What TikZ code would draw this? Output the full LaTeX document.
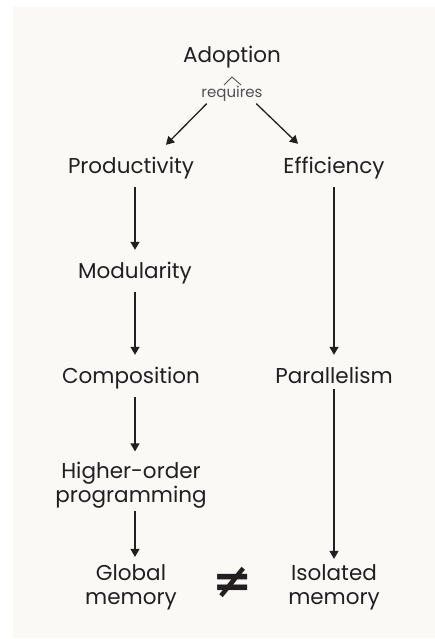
\documentclass[tikz,border=0pt]{standalone}
\usepackage{fontspec}
\setmainfont{Poppins}
\newfontfamily\symfont{DejaVu Sans}
\usetikzlibrary{arrows.meta,calc}

\definecolor{paper}{RGB}{250,249,246}
\definecolor{ink}{RGB}{35,31,32}
\definecolor{note}{RGB}{80,80,80}

\tikzset{
  word/.style={anchor=base, inner sep=0pt, text=ink, align=center,
    font=\fontsize{21.5}{24}\selectfont, text height=13pt, text depth=4pt},
  twoline/.style={word, text height=, text depth=},
  small/.style={anchor=base, inner sep=0pt, text=note,
    font=\fontsize{15}{18}\selectfont},
  flow/.style={draw=ink, line width=1.3pt, -{Triangle[width=9pt,length=8pt]},
    shorten <=10pt, shorten >=15pt},
}

\begin{document}
\begin{tikzpicture}[x=1pt,y=-1pt]

\useasboundingbox (0,0) rectangle (435,639);
\fill[paper] (13,7) rectangle (435,638);

% top of the tree
\node[word] (adopt) at (232,63) {Adoption};
\node[small] (req) at (232,98) {requires};
\draw[note, line width=0.9pt] (224,85) -- (232,77) -- (241,85);

\coordinate (lcol) at (135,0);
\coordinate (rcol) at (334,0);

% left column
\node[word] (prod) at (131,173) {Productivity};
\node[word] (mod)  at (135,278) {Modularity};
\node[word] (comp) at (131,383) {Composition};
\node[twoline] (hop) at (131,502) {Higher-order\\programming};
\node[twoline] (glob) at (131,604) {Global\\memory};

% right column
\node[word] (effi) at (334,173) {Efficiency};
\node[word] (para) at (334,383) {Parallelism};
\node[twoline] (iso) at (334,604) {Isolated\\memory};

\node[inner sep=0pt, text=ink, font=\symfont\bfseries\fontsize{48}{48}\selectfont] (ne) at (233,582) {≠};

\draw[flow, shorten <=0pt, shorten >=0pt] ($(req.south west)+(5.5,1.5)$) -- ($(prod.north)+(35,-15)$);
\draw[flow, shorten <=0pt, shorten >=0pt] ($(req.south east)+(-6.5,1.5)$) -- ($(effi.north)+(-36,-16)$);

\draw[flow] (prod.south -| lcol) -- (mod.north -| lcol);
\draw[flow] (mod.south -| lcol) -- (comp.north -| lcol);
\draw[flow, shorten >=10pt] (comp.south -| lcol) -- (hop.north -| lcol);
\draw[flow, shorten <=3pt, shorten >=7pt] (hop.south -| lcol) -- (glob.north -| lcol);

\draw[flow, shorten <=10pt] (effi.south -| rcol) -- (para.north -| rcol);
\draw[flow, shorten <=2pt, shorten >=5pt] (para.south -| rcol) -- (iso.north -| rcol);

\end{tikzpicture}
\end{document}
